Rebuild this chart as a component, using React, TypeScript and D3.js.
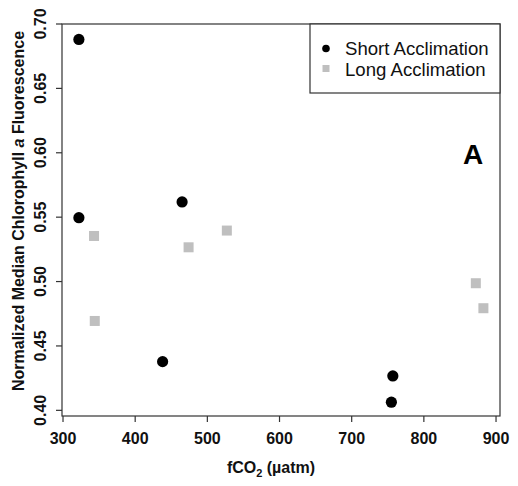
import React from "react";
import * as d3 from "d3";

const shortX = [322, 322, 465, 438, 757, 755];
const shortY = [0.688, 0.5496, 0.5618, 0.4378, 0.4267, 0.4063];
const longX = [343, 344, 474, 527, 872, 882.5];
const longY = [0.5354, 0.4694, 0.5266, 0.5396, 0.4987, 0.4793];
const xTicks = [300, 400, 500, 600, 700, 800, 900];
const yTicks = [0.4, 0.45, 0.5, 0.55, 0.6, 0.65, 0.7];
const legendLabels = ["Short Acclimation", "Long Acclimation"];

const W = 518;
const H = 486;
const L = 62, R = 500, T = 24, B = 416;

export default function App() {
  const x = d3.scaleLinear().domain([298.6, 905.5]).range([L, R]);
  const y = d3.scaleLinear().domain([0.3956, 0.7]).range([B, T]);
  const font = "Liberation Sans, Arial, sans-serif";
  const axisColor = "#333";
  return (
    <svg
      width={W}
      height={H}
      style={{ position: "absolute", left: 0, top: 0, background: "#fff" }}
      fontFamily={font}
    >
      <rect x={L} y={T} width={R - L} height={B - T} fill="none" stroke={axisColor} strokeWidth={1.2} />
      {xTicks.map((t) => (
        <g key={"x" + t}>
          <line x1={x(t)} x2={x(t)} y1={B} y2={B + 6} stroke={axisColor} strokeWidth={1.2} />
          <text x={x(t)} y={444} textAnchor="middle" fontSize={16} fontWeight="bold" fill="#111">
            {t}
          </text>
        </g>
      ))}
      {yTicks.map((t) => (
        <g key={"y" + t}>
          <line x1={L - 6} x2={L} y1={y(t)} y2={y(t)} stroke={axisColor} strokeWidth={1.2} />
          <text
            transform={`translate(45.5,${y(t)}) rotate(-90)`}
            textAnchor="middle"
            fontSize={16}
            fontWeight="bold"
            fill="#111"
          >
            {t.toFixed(2)}
          </text>
        </g>
      ))}
      <text transform="translate(24,211) rotate(-90)" textAnchor="middle" fontSize={16} fontWeight="bold" fill="#111">
        Normalized Median Chlorophyll <tspan fontStyle="italic">a</tspan> Fluorescence
      </text>
      <text x={271} y={473} textAnchor="middle" fontSize={16} fontWeight="bold" fill="#111">
        fCO<tspan fontSize={11} dy={4}>2</tspan>
        <tspan dy={-4}> (µatm)</tspan>
      </text>
      {longX.map((v, i) => (
        <rect key={"l" + i} x={x(v) - 5} y={y(longY[i]) - 5} width={10} height={10} fill="#bfbfbf" />
      ))}
      {shortX.map((v, i) => (
        <circle key={"s" + i} cx={x(v)} cy={y(shortY[i])} r={5.6} fill="#000" />
      ))}
      <rect x={310} y={T} width={R - 310} height={93 - T} fill="#fff" stroke={axisColor} strokeWidth={1.2} />
      <circle cx={326} cy={48.5} r={3.8} fill="#000" />
      <rect x={322.5} y={65} width={7} height={7} fill="#bfbfbf" />
      <text x={345} y={55} fontSize={18.6} fill="#111">{legendLabels[0]}</text>
      <text x={345} y={76} fontSize={18.6} fill="#111">{legendLabels[1]}</text>
      <text x={473} y={164} textAnchor="middle" fontSize={28} fontWeight="bold" fill="#000">A</text>
    </svg>
  );
}
